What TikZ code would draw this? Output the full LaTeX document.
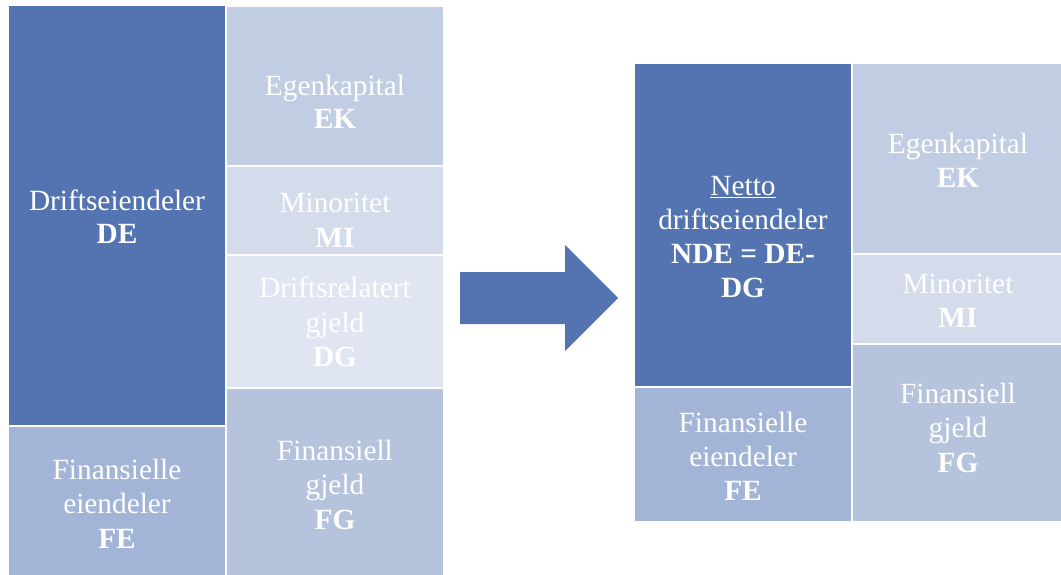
\documentclass[tikz,border=0pt]{standalone}
\usepackage{fontspec}
\setmainfont{Liberation Serif}
\usetikzlibrary{fit}
\definecolor{cDE}{HTML}{5374B0}
\definecolor{cEK}{HTML}{C1CDE3}
\definecolor{cMI}{HTML}{D4DCEC}
\definecolor{cDG}{HTML}{DFE5F1}
\definecolor{cFG}{HTML}{B5C3DD}
\definecolor{cFE}{HTML}{A3B5D6}
\tikzset{
  box/.style={inner sep=0pt, outer sep=0pt, draw=none},
  txt/.style={anchor=base, inner sep=0pt, text=white, font=\fontsize{22}{26}\selectfont},
  btxt/.style={txt, font=\fontsize{22}{26}\selectfont\bfseries},
}
\begin{document}
\begin{tikzpicture}[x=0.75pt, y=-0.75pt]
\useasboundingbox (0,0) rectangle (1061,575);
\fill[white] (0,0) rectangle (1061,575);
% left balance
\node[box, fill=cDE, fit={(9,6) (225,425)}] (lde) {};
\node[box, fill=cFE, fit={(9,427) (225,575)}] (lfe) {};
\node[box, fill=cEK, fit={(227,7) (443,165)}] (lek) {};
\node[box, fill=cMI, fit={(227,167) (443,254)}] (lmi) {};
\node[box, fill=cDG, fit={(227,256) (443,387)}] (ldg) {};
\node[box, fill=cFG, fit={(227,389) (443,575)}] (lfg) {};
% left texts
\node[txt] (lde1) at (117,210) {Driftseiendeler};
\node[btxt] (lde2) at (117,243) {DE};
\node[txt] (lek1) at (335,95) {Egenkapital};
\node[btxt] (lek2) at (335,128) {EK};
\node[txt] (lmi1) at (335,212) {Minoritet};
\node[btxt] (lmi2) at (335,247) {MI};
\node[txt] (ldg1) at (335,297) {Driftsrelatert};
\node[txt] (ldg2) at (335,332) {gjeld};
\node[btxt] (ldg3) at (335,366) {DG};
\node[txt] (lfg1) at (335,460) {Finansiell};
\node[txt] (lfg2) at (335,494) {gjeld};
\node[btxt] (lfg3) at (335,529) {FG};
\node[txt] (lfe1) at (117,479) {Finansielle};
\node[txt] (lfe2) at (117,513) {eiendeler};
\node[btxt] (lfe3) at (117,548) {FE};
% arrow
\fill[cDE] (460,272) -- (565,272) -- (565,245) -- (618,298) -- (565,351) -- (565,324) -- (460,324) -- cycle;
% right balance
\node[box, fill=cDE, fit={(635,64) (851,386)}] (rnde) {};
\node[box, fill=cFE, fit={(635,388) (851,521)}] (rfe) {};
\node[box, fill=cEK, fit={(853,64) (1061,253)}] (rek) {};
\node[box, fill=cMI, fit={(853,255) (1061,343)}] (rmi) {};
\node[box, fill=cFG, fit={(853,345) (1061,521)}] (rfg) {};
% right texts
\node[txt] (rnde1) at (743,195) {\underline{Netto}};
\node[txt] (rnde2) at (743,229) {driftseiendeler};
\node[btxt] (rnde3) at (743,263) {NDE = DE-};
\node[btxt] (rnde4) at (743,297) {DG};
\node[txt] (rek1) at (958,153) {Egenkapital};
\node[btxt] (rek2) at (958,187) {EK};
\node[txt] (rmi1) at (958,293) {Minoritet};
\node[btxt] (rmi2) at (958,327) {MI};
\node[txt] (rfg1) at (958,403) {Finansiell};
\node[txt] (rfg2) at (958,437) {gjeld};
\node[btxt] (rfg3) at (958,472) {FG};
\node[txt] (rfe1) at (743,432) {Finansielle};
\node[txt] (rfe2) at (743,466) {eiendeler};
\node[btxt] (rfe3) at (743,500) {FE};
\end{tikzpicture}
\end{document}
